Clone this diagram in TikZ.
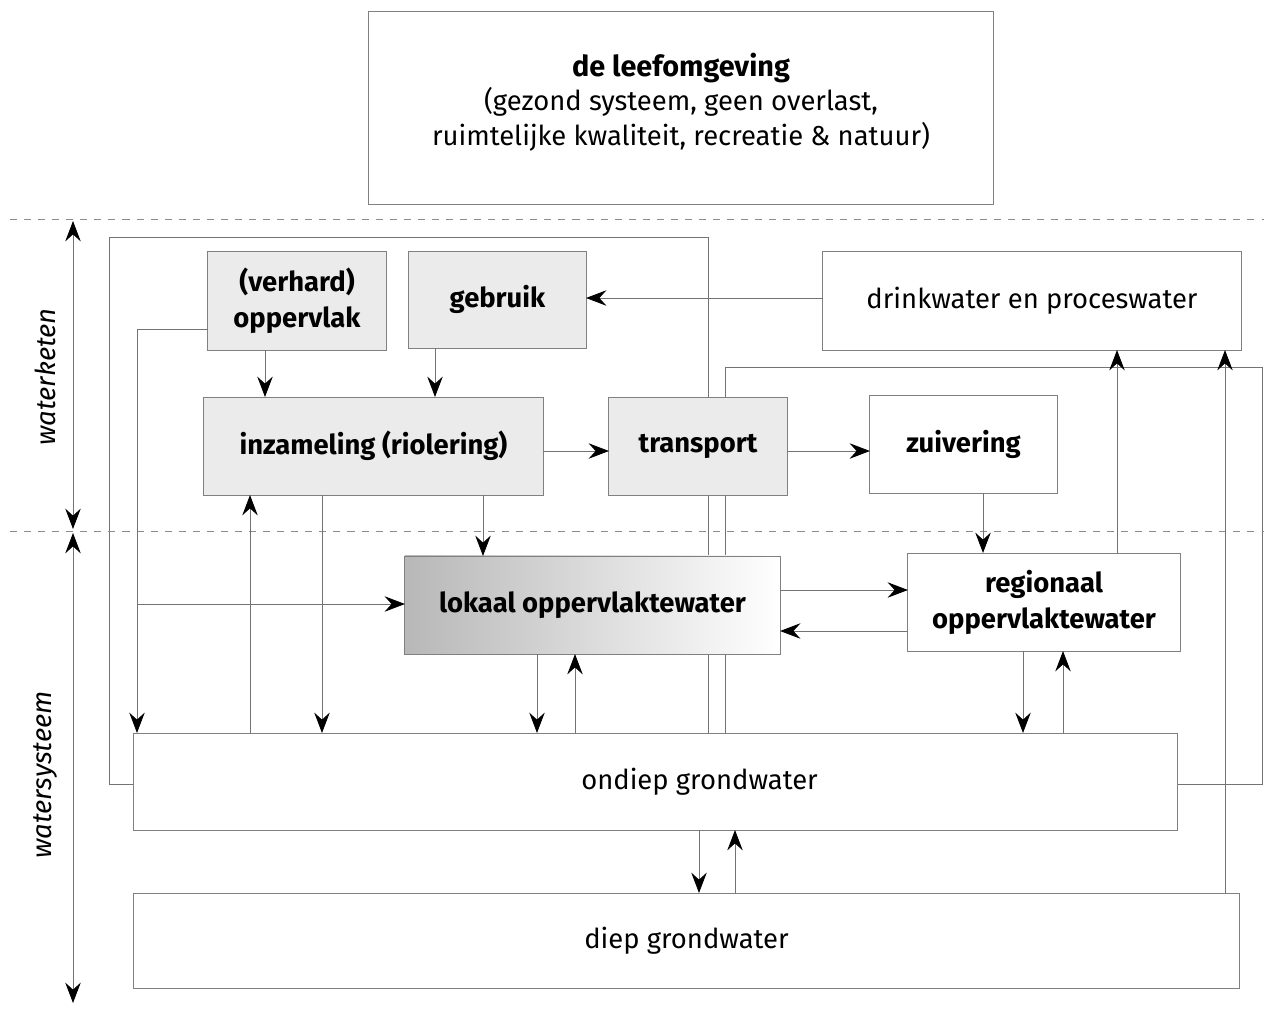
\documentclass[tikz,border=0pt]{standalone}
\usepackage{fontspec}
\setmainfont{Fira Sans}
\usetikzlibrary{arrows.meta,backgrounds}
\begin{document}
\begin{tikzpicture}[x=0.025cm,y=-0.025cm,
  box/.style={draw=black!50, line width=0.7pt, outer sep=0pt, inner sep=0pt, align=center,
    font=\fontsize{19.5}{25}\selectfont, fill=white},
  gbox/.style={box, fill=black!8, font=\fontsize{19.5}{25.5}\selectfont\bfseries},
  wbox/.style={box, font=\fontsize{19.5}{25.5}\selectfont\bfseries},
  conn/.style={draw=black!55, line width=0.6pt},
  tip/.tip={Stealth[length=14.5pt,width=11pt,inset=5pt,color=black]},
  arr/.style={conn, -tip},
  dashline/.style={draw=black!45, line width=0.6pt, dash pattern=on 5pt off 5pt},
  side/.style={font=\fontsize{19.5}{22}\selectfont\itshape, rotate=90}]
\useasboundingbox (0,0) rectangle (1264,1008);

% boxes
\node[box, minimum width=15.6cm, minimum height=4.8cm] (top) at (681,108) {};
\node[align=center, font=\fontsize{19.5}{24.5}\selectfont] (toptext) at (top.center) [yshift=0.15cm]
  {{\fontsize{20.5}{24.5}\selectfont\bfseries de leefomgeving}\\(gezond systeem, geen overlast,\\ruimtelijke kwaliteit, recreatie \& natuur)};
\node[gbox, minimum width=4.45cm, minimum height=2.475cm] (opp) at (297,300.5) {(verhard)\\oppervlak};
\node[gbox, minimum width=4.425cm, minimum height=2.425cm] (gebr) at (497.5,299.5) {gebruik};
\node[box, minimum width=10.45cm, minimum height=2.475cm] (drink) at (1032,300.5) {drinkwater en proceswater};
\node[gbox, minimum width=8.475cm, minimum height=2.45cm] (inz) at (373.5,446) {inzameling (riolering)};
\node[gbox, minimum width=4.45cm, minimum height=2.45cm] (trans) at (698,446) {transport};
\node[wbox, minimum width=4.675cm, minimum height=2.45cm] (zuiv) at (963.5,444) {zuivering};
\node[wbox, minimum width=9.375cm, minimum height=2.45cm, left color=black!28, right color=white] (lok) at (592.5,605) {lokaal oppervlaktewater};
\node[wbox, minimum width=6.8cm, minimum height=2.45cm] (reg) at (1044,602) {regionaal\\oppervlaktewater};
\node[box, minimum width=26.075cm, minimum height=2.425cm] (ond) at (655.5,781.5) {\hspace*{2.2cm}ondiep grondwater};
\node[box, minimum width=27.625cm, minimum height=2.375cm] (diep) at (686.5,940.5) {diep grondwater};

% containers and dashed separators
\begin{scope}[on background layer]
\draw[conn] (ond.west |- 0,784) -- (109,784) -- (109,237) -- (708,237) -- (708,0 |- ond.north);
\draw[conn] (ond.east |- 0,784) -- (1262,784) -- (1262,367) -- (725,367) -- (725,0 |- ond.north);
\draw[dashline] (10,219) -- (1264,219);
\draw[dashline] (10,531) -- (1264,531);
\end{scope}

% side labels
\coordinate (wk1) at (73,221);
\coordinate (wk2) at (73,529);
\coordinate (ws1) at (73,533);
\coordinate (ws2) at (73,1003);
\draw[conn, tip-tip] (wk1) -- (wk2);
\draw[conn, tip-tip] (ws1) -- (ws2);
\node[side] (lwk) at (45,377) {waterketen};
\node[side] (lws) at (45,775) {watersysteem};

% connectors
\draw[arr] (drink.west |- 0,298) -- (gebr.east |- 0,298);
\draw[arr] (265,0 |- opp.south) -- (265,0 |- inz.north);
\draw[arr] (435,0 |- gebr.south) -- (435,0 |- inz.north);
\draw[arr] (inz.east |- 0,451) -- (trans.west |- 0,451);
\draw[arr] (trans.east |- 0,451) -- (zuiv.west |- 0,451);
\draw[arr] (opp.west |- 0,329) -| (137,0 |- ond.north);
\coordinate (j1) at (137,604);
\draw[arr] (j1) -- (lok.west |- j1);
\draw[arr] (322,0 |- inz.south) -- (322,0 |- ond.north);
\draw[arr] (250,0 |- ond.north) -- (250,0 |- inz.south);
\draw[arr] (483,0 |- inz.south) -- (483,0 |- lok.north);
\draw[arr] (537,0 |- lok.south) -- (537,0 |- ond.north);
\draw[arr] (575,0 |- ond.north) -- (575,0 |- lok.south);
\draw[arr] (lok.east |- 0,590) -- (reg.west |- 0,590);
\draw[arr] (reg.west |- 0,631) -- (lok.east |- 0,631);
\draw[arr] (983,0 |- zuiv.south) -- (983,0 |- reg.north);
\draw[arr] (1023,0 |- reg.south) -- (1023,0 |- ond.north);
\draw[arr] (1063,0 |- ond.north) -- (1063,0 |- reg.south);
\draw[arr] (1117,0 |- reg.north) -- (1117,0 |- drink.south);
\draw[arr] (1225,0 |- diep.north) -- (1225,0 |- drink.south);
\draw[arr] (699,0 |- ond.south) -- (699,0 |- diep.north);
\draw[arr] (735,0 |- diep.north) -- (735,0 |- ond.south);
\end{tikzpicture}
\end{document}
